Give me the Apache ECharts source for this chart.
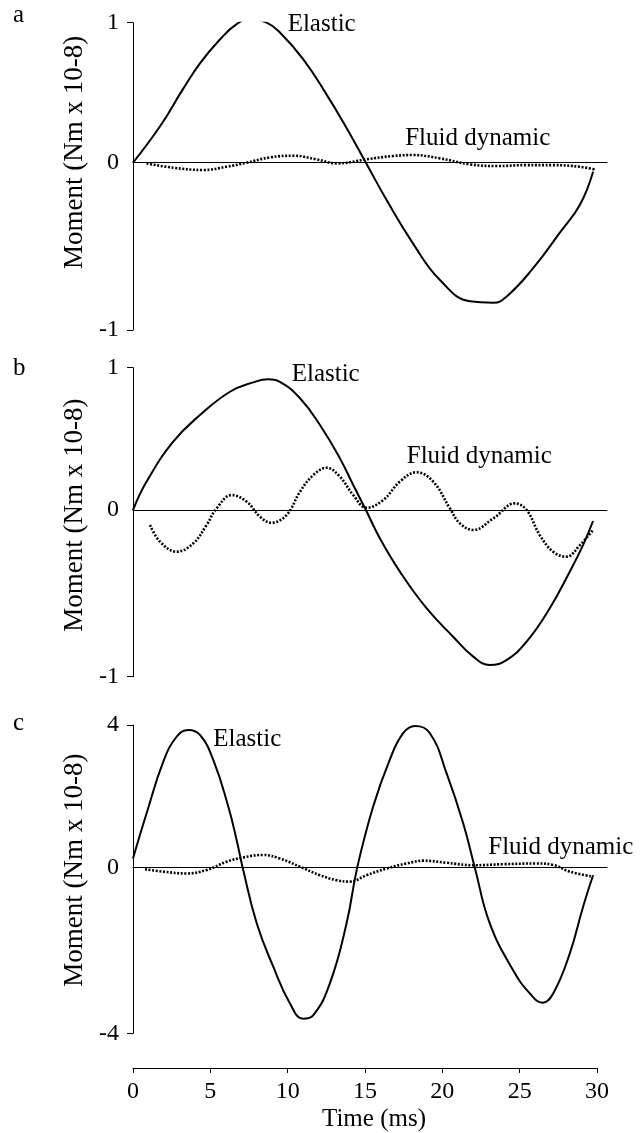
<!DOCTYPE html>
<html>
<head>
<meta charset="utf-8">
<script src="https://cdn.jsdelivr.net/npm/echarts@6/dist/echarts.min.js"></script>
<style>
  html, body { margin: 0; padding: 0; background: #fff; }
  #chart { width: 641px; height: 1133px; }
</style>
</head>
<body>
<div id="chart"></div>
<script>
// time (ms), moment (Nm x 10-8)
const elasticA = [[0,0],[1.75,0.26],[3.2,0.52],[4.33,0.71],[5.62,0.88],[6.7,0.99],[7.56,1.024],[8.64,1.0],[9.5,0.93],[11.0,0.74],[12.5,0.49],[13.8,0.25],[15.06,0],[16.4,-0.267],[18.1,-0.576],[19.85,-0.838],[21.8,-0.99],[23.3,-1.0],[24.15,-0.957],[25.9,-0.75],[27.6,-0.5],[28.9,-0.3],[29.75,-0.064]]
const fluidA = [[0.88,-0.005],[2.6,-0.036],[4.55,-0.052],[6.05,-0.029],[7.35,0],[8.86,0.038],[10.36,0.05],[11.87,0.024],[13.2,-0.005],[15.1,0.024],[16.83,0.048],[18.1,0.055],[19.85,0.031],[21.8,-0.012],[23.5,-0.024],[25.45,-0.017],[27.17,-0.017],[28.9,-0.029],[29.86,-0.048]]

const elasticB = [[0,0],[0.88,0.2],[2.6,0.48],[4.33,0.667],[6.27,0.831],[7.78,0.897],[8.75,0.918],[9.5,0.9],[10.8,0.785],[12.09,0.597],[13.38,0.363],[14.24,0.176],[15.06,0],[15.97,-0.2],[17.26,-0.433],[18.98,-0.69],[20.7,-0.89],[22.0,-1.03],[23.08,-1.089],[24.15,-1.054],[25.45,-0.925],[26.95,-0.69],[28.24,-0.433],[29.1,-0.246],[29.75,-0.077]]
const fluidB = [[1.1,-0.105],[1.745,-0.222],[2.82,-0.293],[3.9,-0.234],[4.76,-0.105],[5.41,0.012],[6.38,0.105],[7.35,0.059],[8.21,-0.047],[8.96,-0.089],[9.93,-0.035],[10.8,0.129],[11.66,0.246],[12.52,0.297],[13.38,0.234],[14.24,0.105],[15.1,0.016],[16.18,0.07],[17.26,0.2],[18.33,0.265],[19.41,0.2],[20.49,0.012],[21.14,-0.094],[22.0,-0.14],[23.3,-0.059],[24.7,0.047],[25.45,0],[26.3,-0.176],[27.17,-0.293],[28.03,-0.328],[28.9,-0.246],[29.75,-0.14]]

const elasticC = [[0,0.25],[0.88,1.52],[1.96,2.97],[2.82,3.67],[3.58,3.86],[4.33,3.72],[5.19,3.02],[6.16,1.71],[6.7,0.77],[7.09,0],[8.0,-1.57],[9.07,-2.79],[10.15,-3.82],[11.0,-4.25],[11.66,-4.15],[12.73,-3.26],[13.81,-1.57],[14.5,0],[15.53,1.71],[16.6,3.02],[17.47,3.77],[18.23,3.97],[19.2,3.77],[20.28,2.64],[21.35,1.24],[22.1,0],[23.07,-1.57],[24.58,-2.89],[25.66,-3.54],[26.48,-3.8],[27.17,-3.54],[28.24,-2.42],[29.1,-1.11],[29.75,-0.22]]
const fluidC = [[0.78,-0.05],[1.96,-0.12],[3.47,-0.17],[4.76,-0.075],[6.05,0.16],[7.13,0.28],[8.42,0.35],[9.5,0.25],[10.8,0.02],[12.09,-0.22],[13.17,-0.36],[14.03,-0.4],[15.1,-0.22],[16.4,-0.03],[17.69,0.11],[18.76,0.19],[20.28,0.13],[22.0,0.06],[23.94,0.09],[26.09,0.11],[27.17,0.07],[28.24,-0.12],[29.75,-0.26]]

// axis ranges and tick labels of each panel (bottom, zero, top)
const yRanges = [[-1.195, 1], [-1.171, 1], [-4.66, 4]]
const yTickLabels = [['-1', '0', '1'], ['-1', '0', '1'], ['-4', '0', '4']]
const panelLetters = ['a', 'b', 'c']
const timeTicks = [0, 5, 10, 15, 20, 25, 30]

// where the curve names sit, in data units
const elasticLabelAt = [[10.0, 0.99], [10.26, 0.956], [5.19, 3.6]]
const fluidLabelAt = [[17.6, 0.176], [17.7, 0.375], [22.97, 0.56]]

const FONT = "'Liberation Serif', 'DejaVu Serif', serif"
const gridTops = [22.7, 367.7, 725]
const gridHeights = [307.3, 309, 308.3]
const namePad = [48, 14, 18]

let grids = []
let xAxes = []
let yAxes = []
let series = []
let titles = []

const panels = [[elasticA, fluidA], [elasticB, fluidB], [elasticC, fluidC]]

panels.forEach((p, i) => {
  grids.push({ left: 133, right: 34, top: gridTops[i], height: gridHeights[i] })
  xAxes.push({
    gridIndex: i, type: 'value', min: 0, max: 30.65,
    axisLine: { show: true, onZero: true, lineStyle: { color: '#000', width: 1 } },
    axisTick: { show: false }, axisLabel: { show: false }, splitLine: { show: false }
  })
  let [lo, hi] = yRanges[i]
  let labels = yTickLabels[i]
  yAxes.push({
    gridIndex: i, type: 'value', min: lo, max: hi,
    name: 'Moment (Nm x 10-8)',
    nameLocation: 'middle', nameRotate: 90, nameGap: 40,
    nameTextStyle: { fontFamily: FONT, fontSize: 27, color: '#000', padding: [0, 0, 0, namePad[i]] },
    axisLine: { show: true, onZero: false, lineStyle: { color: '#000', width: 1 } },
    axisTick: { show: true, inside: false, length: 6, customValues: [lo, hi], lineStyle: { color: '#000' } },
    axisLabel: {
      customValues: [lo, 0, hi], margin: 14,
      fontFamily: FONT, fontSize: 24, color: '#000',
      formatter: v => v === lo ? labels[0] : (v === hi ? labels[2] : labels[1])
    },
    splitLine: { show: false }
  })
  series.push({
    type: 'line', name: 'Elastic', xAxisIndex: i, yAxisIndex: i, data: p[0],
    showSymbol: false, smooth: 0.45, silent: true,
    lineStyle: { color: '#000', width: 2 }
  })
  series.push({
    type: 'line', name: 'Fluid dynamic', xAxisIndex: i, yAxisIndex: i, data: p[1],
    showSymbol: false, smooth: 0.4, silent: true,
    lineStyle: { color: '#000', width: 2.6, type: [2, 1.6], cap: 'butt' }
  })
  titles.push({
    text: panelLetters[i], left: 13, top: [3, 355.5, 710.5][i], padding: 0,
    textStyle: { fontFamily: FONT, fontSize: 25, fontWeight: 'normal', color: '#000' }
  })
})

// shared time axis under the last panel
grids.push({ left: 133, width: 464, top: 1060, height: 8 })
xAxes.push({
  gridIndex: 3, type: 'value', min: 0, max: 30, interval: 5,
  name: 'Time (ms)', nameLocation: 'middle', nameGap: 39,
  nameTextStyle: { fontFamily: FONT, fontSize: 25, color: '#000', padding: [0, 0, 0, 18] },
  axisLine: { show: true, onZero: false, lineStyle: { color: '#000', width: 1 } },
  axisTick: { show: true, inside: false, length: 5, lineStyle: { color: '#000' } },
  axisLabel: {
    margin: 12, fontFamily: FONT, fontSize: 24, color: '#000',
    formatter: v => timeTicks.includes(v) ? String(v) : ''
  },
  splitLine: { show: false }
})
yAxes.push({ gridIndex: 3, type: 'value', min: 0, max: 1, show: false })

let myChart = echarts.init(document.getElementById('chart'), null, { renderer: 'canvas' })
myChart.setOption({
  animation: false,
  backgroundColor: '#fff',
  title: titles,
  grid: grids,
  xAxis: xAxes,
  yAxis: yAxes,
  series: series
})

// curve names, placed from data coordinates
let texts = []
for (let i = 0; i < 3; i++) {
  [[elasticLabelAt[i], 'Elastic'], [fluidLabelAt[i], 'Fluid dynamic']].forEach(([at, txt]) => {
    let pt = myChart.convertToPixel({ gridIndex: i }, at)
    texts.push({
      type: 'text', x: pt[0], y: pt[1], silent: true,
      style: { text: txt, fontFamily: FONT, fontSize: 25, fill: '#000', align: 'left', verticalAlign: 'middle' }
    })
  })
}
myChart.setOption({ graphic: texts })
</script>
</body>
</html>
